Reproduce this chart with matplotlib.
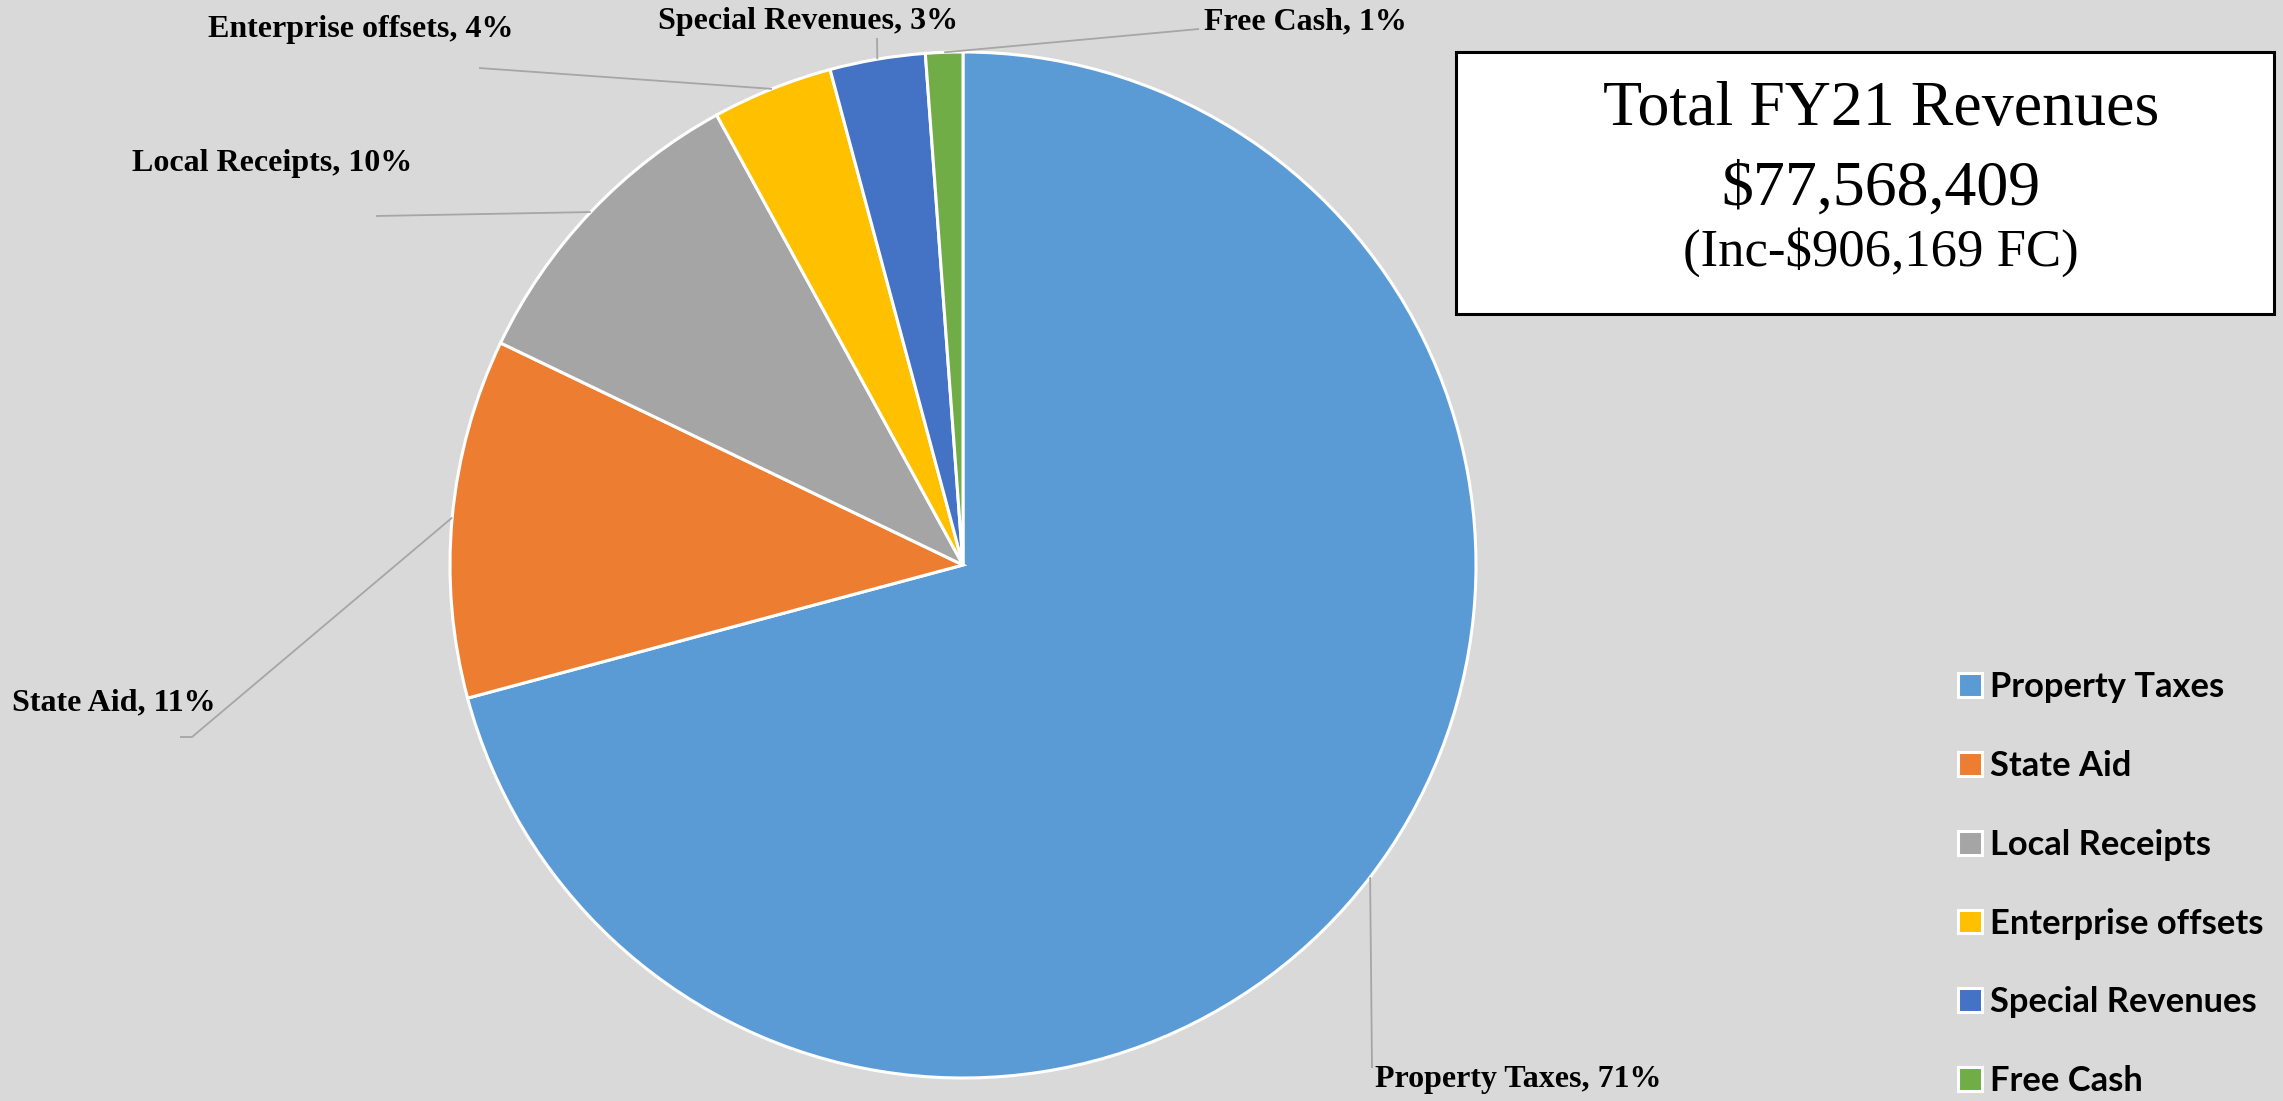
import matplotlib
matplotlib.use("Agg")
import matplotlib.pyplot as plt
from matplotlib.patches import Rectangle
import numpy as np

# ---- data ----
categories = ["Property Taxes", "State Aid", "Local Receipts",
              "Enterprise offsets", "Special Revenues", "Free Cash"]
shares = [70.8, 11.3, 9.9, 3.8, 3.0, 1.17]   # percent of total revenues
colors = ["#5B9BD5", "#ED7D31", "#A5A5A5", "#FFC000", "#4472C4", "#70AD47"]
title_lines = ["Total FY21 Revenues", "$77,568,409", "(Inc-$906,169 FC)"]

# ---- layout (pixel coordinates, y measured from top) ----
W, H = 2283, 1101
center_px = (963, 565)
radius_px = 513
label_pos = [(1375, 1080), (12, 703), (132, 163), (208, 29), (658, 22), (1204, 22)]
leader_end = [[(1372, 1068)], [(192, 737), (180, 737)], [(376, 216)],
              [(479, 68)], [(877, 38)], [(1199, 29)]]

fig = plt.figure(figsize=(W / 100, H / 100), dpi=100)
fig.patch.set_facecolor("#D9D9D9")
ax = fig.add_axes([0, 0, 1, 1])

def fy(y):
    return H - y

cx, cy = center_px[0], fy(center_px[1])
wedges, _ = ax.pie(shares, colors=colors, startangle=90, counterclock=False,
                   center=(cx, cy), radius=radius_px,
                   wedgeprops=dict(edgecolor="white", linewidth=2.2))
ax.set_xlim(0, W)
ax.set_ylim(0, H)
ax.set_aspect("equal")
ax.axis("off")

total = sum(shares)
serif = "Liberation Serif"
for w, cat, val, (lx, ly), ends in zip(wedges, categories, shares, label_pos, leader_end):
    mid = np.deg2rad((w.theta1 + w.theta2) / 2)
    px = cx + radius_px * np.cos(mid)
    py = cy + radius_px * np.sin(mid)
    xs = [px] + [e[0] for e in ends]
    ys = [py] + [fy(e[1]) for e in ends]
    ax.plot(xs, ys, color="#A6A6A6", linewidth=1.3, solid_capstyle="butt", zorder=1)
    ax.text(lx, fy(ly), f"{cat}, {round(val / total * 100):.0f}%", ha="left", va="center",
            fontsize=23, fontweight="bold", family=serif, color="black")

# title box
ax.add_patch(Rectangle((1456, fy(314)), 2274 - 1456, 314 - 52, facecolor="white",
                       edgecolor="black", linewidth=2.2, zorder=3))
ax.text(1881, fy(110), title_lines[0], ha="center", va="center", fontsize=46,
        family=serif, zorder=4)
ax.text(1881, fy(190), title_lines[1], ha="center", va="center", fontsize=46,
        family=serif, zorder=4)
ax.text(1881, fy(252), title_lines[2], ha="center", va="center", fontsize=38,
        family=serif, zorder=4)

# legend
leg = fig.legend(wedges, categories, loc="upper left", bbox_to_anchor=(1958 / W, 1 - 671 / H),
                 frameon=False, handlelength=0.69, handleheight=0.69, handletextpad=0.25,
                 labelspacing=1.36, borderpad=0, borderaxespad=0,
                 prop=dict(family="Lato", weight="bold", size=24.8))

fig.savefig("out.png", dpi=100, facecolor=fig.get_facecolor())
